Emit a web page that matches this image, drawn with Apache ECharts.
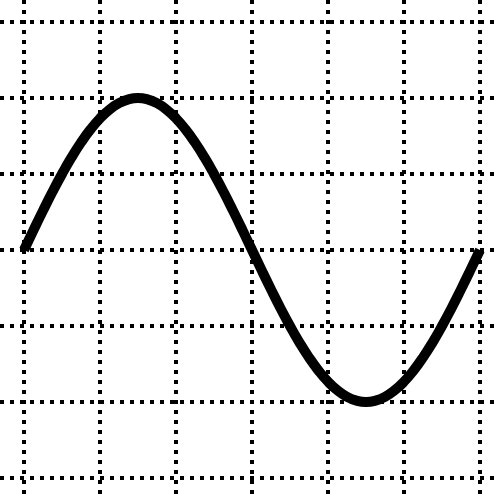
<!DOCTYPE html>
<html>
<head>
<meta charset="utf-8">
<script src="https://cdn.jsdelivr.net/npm/echarts@6/dist/echarts.min.js"></script>
<style>html,body{margin:0;padding:0;background:#fff;}#c{width:500px;height:500px;}</style>
</head>
<body>
<div id="c"></div>
<script>
// x positions in grid units (one full period spans 0..6)
var xValues = [0,0.125,0.25,0.375,0.5,0.625,0.75,0.875,1,1.125,1.25,1.375,1.5,1.625,1.75,1.875,2,2.125,2.25,2.375,2.5,2.625,2.75,2.875,3,
               3.125,3.25,3.375,3.5,3.625,3.75,3.875,4,4.125,4.25,4.375,4.5,4.625,4.75,4.875,5,5.125,5.25,5.375,5.5,5.625,5.75,5.875,6];
// curve values
var yValues = [0,0.131,0.259,0.383,0.5,0.609,0.707,0.793,0.866,0.924,0.966,0.991,1,0.991,0.966,0.924,0.866,0.793,0.707,0.609,0.5,0.383,0.259,0.131,0,
               -0.131,-0.259,-0.383,-0.5,-0.609,-0.707,-0.793,-0.866,-0.924,-0.966,-0.991,-1,-0.991,-0.966,-0.924,-0.866,-0.793,-0.707,-0.609,-0.5,-0.383,-0.259,-0.131,0];

var data = xValues.map(function (x, i) { return [x, yValues[i]]; });
var chart = echarts.init(document.getElementById('c'), null, {renderer: 'canvas'});
var dotted = {color: '#000', width: 4, type: [4, 6]};
chart.setOption({
  animation: false,
  backgroundColor: '#fff',
  grid: {left: 0, right: 0, top: 0, bottom: 0, containLabel: false},
  xAxis: {
    type: 'value', min: -0.3158, max: 6.2632, minInterval: 1, maxInterval: 1, splitNumber: 7,
    axisLine: {show: false}, axisTick: {show: false}, axisLabel: {show: false},
    splitLine: {show: true, showMinLine: false, showMaxLine: false, lineStyle: dotted}
  },
  yAxis: {
    type: 'value', min: -1.6447, max: 1.6447, minInterval: 0.5, maxInterval: 0.5, splitNumber: 7,
    axisLine: {show: false}, axisTick: {show: false}, axisLabel: {show: false},
    splitLine: {show: true, showMinLine: false, showMaxLine: false, lineStyle: dotted}
  },
  series: [{
    type: 'line',
    data: data,
    smooth: 0.5,
    showSymbol: false,
    lineStyle: {color: '#000', width: 10, cap: 'butt', join: 'round'}
  }]
});
</script>
</body>
</html>
